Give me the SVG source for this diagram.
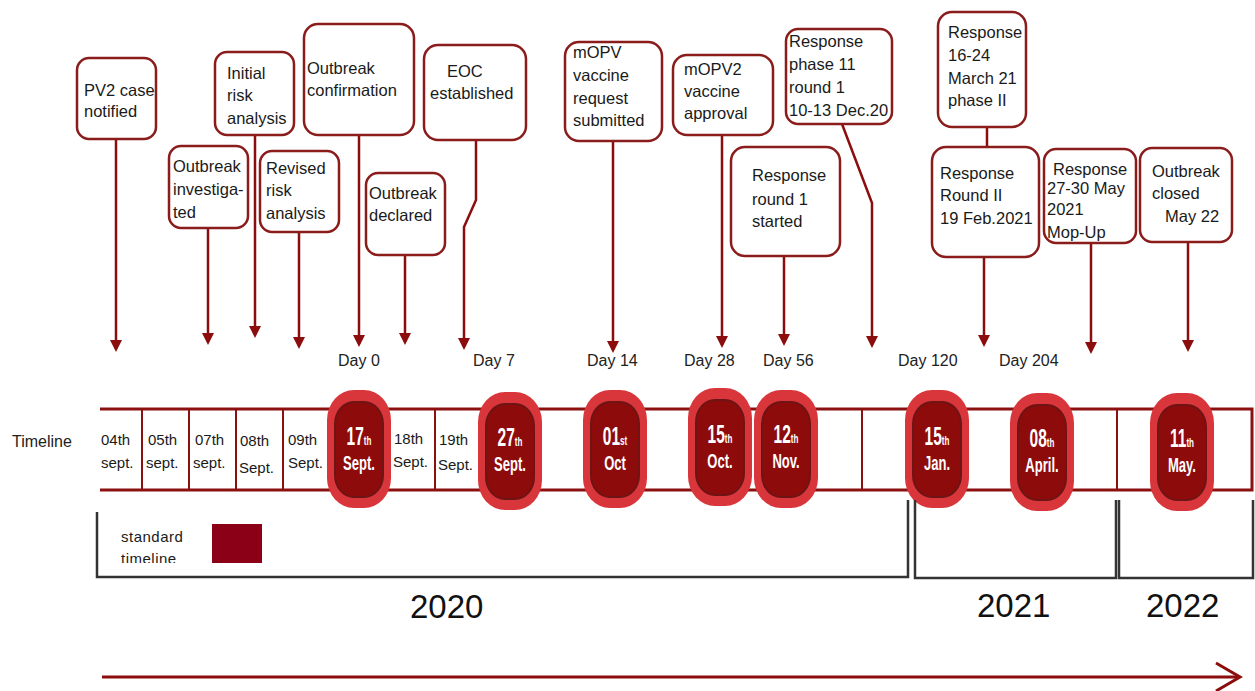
<svg xmlns="http://www.w3.org/2000/svg" width="1255" height="691" viewBox="0 0 1255 691">
<style>
.box{fill:#fff;stroke:#8b1c1c;stroke-width:2.5}
.bt{font-family:"Liberation Sans",Arial,sans-serif;font-size:16.5px;fill:#1a1a1a}
.conn{stroke:#8b0d0d;stroke-width:2.5;fill:none}
.arr{marker-end:url(#ah)}
.day{font-family:"Liberation Sans",Arial,sans-serif;font-size:16px;fill:#222}
.cell{font-family:"Liberation Sans",Arial,sans-serif;font-size:15px;fill:#1a1a1a}
.band{stroke:#8b1010;stroke-width:3;fill:none}
.div{stroke:#8b1010;stroke-width:2;fill:none}
.outer{fill:#d9363c}
.inner{fill:#8e0b0b;stroke:#6e1414;stroke-width:2}
.ct{font-family:"Liberation Sans",Arial,sans-serif;font-weight:bold;fill:#fff;text-anchor:middle}
.num{font-size:25px}
.sup{font-size:13px}
.mon{font-size:21px}
.brk{stroke:#333;stroke-width:2.5;fill:none}
.yr{font-family:"Liberation Sans",Arial,sans-serif;font-size:33px;fill:#111}
</style>
<defs>
<marker id="ah" markerUnits="userSpaceOnUse" markerWidth="14" markerHeight="12" refX="9" refY="6" orient="auto">
<path d="M0,0 L12,6 L0,12 z" fill="#8b0d0d"/>
</marker>
<clipPath id="legclip"><rect x="100" y="520" width="200" height="43"/></clipPath>
<g id="circ">
<rect class="outer" x="-32" y="-59" width="64" height="118" rx="27" ry="30"/>
<rect class="inner" x="-24" y="-47" width="48" height="95" rx="19" ry="22"/>
</g>
</defs>

<g id="connectors">
<path class="conn arr" d="M116,139 V349"/>
<path class="conn arr" d="M208,228 V342"/>
<path class="conn arr" d="M255,135 V335"/>
<path class="conn arr" d="M299,232 V346"/>
<path class="conn arr" d="M359,135 V344"/>
<path class="conn arr" d="M405,255 V342"/>
<path class="conn arr" d="M476,140 V200 L464,227 V347"/>
<path class="conn arr" d="M613,141 V350"/>
<path class="conn arr" d="M722,135 V345"/>
<path class="conn arr" d="M784,256 V343"/>
<path class="conn arr" d="M842,124 L872,203 V345"/>
<path class="conn" d="M987,127 V147"/>
<path class="conn arr" d="M984,257 V344"/>
<path class="conn arr" d="M1091,243 V351"/>
<path class="conn arr" d="M1188,242 V349"/>
</g>

<g id="n-pv2"><rect class="box" x="77" y="58" width="79" height="81" rx="12"/>
<text class="bt" x="84" y="96">PV2 case</text><text class="bt" x="84" y="117">notified</text></g>
<g id="n-investigated"><rect class="box" x="169" y="146" width="79" height="82" rx="12"/>
<text class="bt" x="173" y="172">Outbreak</text><text class="bt" x="173" y="195">investiga-</text><text class="bt" x="173" y="218">ted</text></g>
<g id="n-initial"><rect class="box" x="215" y="52" width="79" height="83" rx="12"/>
<text class="bt" x="227" y="79">Initial</text><text class="bt" x="227" y="101">risk</text><text class="bt" x="227" y="124">analysis</text></g>
<g id="n-confirmation"><rect class="box" x="304" y="24" width="110" height="111" rx="14"/>
<text class="bt" x="307" y="74">Outbreak</text><text class="bt" x="307" y="96">confirmation</text></g>
<g id="n-revised"><rect class="box" x="260" y="151" width="79" height="81" rx="12"/>
<text class="bt" x="266" y="174">Revised</text><text class="bt" x="266" y="196">risk</text><text class="bt" x="266" y="219">analysis</text></g>
<g id="n-declared"><rect class="box" x="366" y="173" width="79" height="82" rx="12"/>
<text class="bt" x="369" y="199">Outbreak</text><text class="bt" x="369" y="221">declared</text></g>
<g id="n-eoc"><rect class="box" x="424" y="45" width="102" height="95" rx="14"/>
<text class="bt" x="447" y="77">EOC</text><text class="bt" x="430" y="99">established</text></g>
<g id="n-mopv"><rect class="box" x="565" y="42" width="97" height="99" rx="14"/>
<text class="bt" x="573" y="58">mOPV</text><text class="bt" x="573" y="81">vaccine</text><text class="bt" x="573" y="104">request</text><text class="bt" x="573" y="126">submitted</text></g>
<g id="n-mopv2"><rect class="box" x="673" y="55" width="100" height="80" rx="14"/>
<text class="bt" x="684" y="75">mOPV2</text><text class="bt" x="684" y="97">vaccine</text><text class="bt" x="684" y="119">approval</text></g>
<g id="n-round1"><rect class="box" x="731" y="147" width="109" height="109" rx="14"/>
<text class="bt" x="752" y="181">Response</text><text class="bt" x="752" y="205">round 1</text><text class="bt" x="752" y="227">started</text></g>
<g id="n-phase11"><rect class="box" x="786" y="29" width="106" height="95" rx="12"/>
<text class="bt" x="789" y="47">Response</text><text class="bt" x="789" y="70">phase 11</text><text class="bt" x="789" y="93">round 1</text><text class="bt" x="789" y="116">10-13 Dec.20</text></g>
<g id="n-phase2"><rect class="box" x="938" y="12" width="88" height="115" rx="14"/>
<text class="bt" x="948" y="38">Response</text><text class="bt" x="948" y="61">16-24</text><text class="bt" x="948" y="84">March 21</text><text class="bt" x="948" y="106">phase II</text></g>
<g id="n-roundII"><rect class="box" x="932" y="147" width="107" height="110" rx="14"/>
<text class="bt" x="940" y="179">Response</text><text class="bt" x="940" y="201">Round II</text><text class="bt" x="940" y="224">19 Feb.2021</text></g>
<g id="n-mopup"><rect class="box" x="1044" y="149" width="92" height="94" rx="12"/>
<text class="bt" x="1053" y="175">Response</text><text class="bt" x="1047" y="194">27-30 May</text><text class="bt" x="1047" y="215">2021</text><text class="bt" x="1047" y="238">Mop-Up</text></g>
<g id="n-closed"><rect class="box" x="1140" y="148" width="92" height="94" rx="12"/>
<text class="bt" x="1152" y="177">Outbreak</text><text class="bt" x="1152" y="199">closed</text><text class="bt" x="1165" y="222">May 22</text></g>

<g id="days">
<text class="day" x="338" y="366">Day 0</text>
<text class="day" x="473" y="366">Day 7</text>
<text class="day" x="587" y="366">Day 14</text>
<text class="day" x="684" y="366">Day 28</text>
<text class="day" x="763" y="366">Day 56</text>
<text class="day" x="898" y="366">Day 120</text>
<text class="day" x="999" y="366">Day 204</text>
</g>

<g id="timeline">
<text class="day" x="12" y="447">Timeline</text>
<path class="band" d="M100,409 H1252 V490 H100"/>
<path class="div" d="M142,409 V490 M189,409 V490 M236,409 V490 M283,409 V490 M435,409 V490 M862,409 V490 M1117,409 V490"/>
<text class="cell" x="101" y="445">04th</text><text class="cell" x="101" y="468">sept.</text>
<text class="cell" x="148" y="445">05th</text><text class="cell" x="146" y="468">sept.</text>
<text class="cell" x="195" y="445">07th</text><text class="cell" x="193" y="468">sept.</text>
<text class="cell" x="240" y="446">08th</text><text class="cell" x="239" y="473">Sept.</text>
<text class="cell" x="288" y="445">09th</text><text class="cell" x="288" y="468">Sept.</text>
<text class="cell" x="394" y="444">18th</text><text class="cell" x="393" y="467">Sept.</text>
<text class="cell" x="439" y="445">19th</text><text class="cell" x="438" y="470">Sept.</text>
</g>

<g id="c-17sep"><use href="#circ" x="359" y="449"/>
<g transform="translate(359,0) scale(0.62,1)"><text class="ct" x="0" y="445"><tspan class="num">17</tspan><tspan class="sup">th</tspan></text><text class="ct mon" x="0" y="470">Sept.</text></g></g>
<g id="c-27sep"><use href="#circ" x="510" y="451"/>
<g transform="translate(510,0) scale(0.62,1)"><text class="ct" x="0" y="446"><tspan class="num">27</tspan><tspan class="sup">th</tspan></text><text class="ct mon" x="0" y="471">Sept.</text></g></g>
<g id="c-01oct"><use href="#circ" x="615" y="449"/>
<g transform="translate(615,0) scale(0.62,1)"><text class="ct" x="0" y="445"><tspan class="num">01</tspan><tspan class="sup">st</tspan></text><text class="ct mon" x="0" y="470">Oct</text></g></g>
<g id="c-15oct"><use href="#circ" x="720" y="447"/>
<g transform="translate(720,0) scale(0.62,1)"><text class="ct" x="0" y="443"><tspan class="num">15</tspan><tspan class="sup">th</tspan></text><text class="ct mon" x="0" y="468">Oct.</text></g></g>
<g id="c-12nov"><use href="#circ" x="786" y="449"/>
<g transform="translate(786,0) scale(0.62,1)"><text class="ct" x="0" y="443"><tspan class="num">12</tspan><tspan class="sup">th</tspan></text><text class="ct mon" x="0" y="468">Nov.</text></g></g>
<g id="c-15jan"><use href="#circ" x="937" y="449"/>
<g transform="translate(937,0) scale(0.62,1)"><text class="ct" x="0" y="445"><tspan class="num">15</tspan><tspan class="sup">th</tspan></text><text class="ct mon" x="0" y="470">Jan.</text></g></g>
<g id="c-08apr"><use href="#circ" x="1042" y="452"/>
<g transform="translate(1042,0) scale(0.62,1)"><text class="ct" x="0" y="447"><tspan class="num">08</tspan><tspan class="sup">th</tspan></text><text class="ct mon" x="0" y="472">April.</text></g></g>
<g id="c-11may"><use href="#circ" x="1182" y="452"/>
<g transform="translate(1182,0) scale(0.62,1)"><text class="ct" x="0" y="447"><tspan class="num">11</tspan><tspan class="sup">th</tspan></text><text class="ct mon" x="0" y="472">May.</text></g></g>

<g id="legend">
<g clip-path="url(#legclip)">
<text class="cell" x="121" y="542" font-size="16" letter-spacing="0.5">standard</text>
<text class="cell" x="121" y="564" font-size="16" letter-spacing="0.5">timeline</text>
</g>
<rect x="212" y="524" width="50" height="39" fill="#8b0016"/>
</g>

<g id="years">
<path class="brk" d="M97,512 V577 H908 V500"/>
<path class="brk" d="M915,500 V578 H1116 V500"/>
<path class="brk" d="M1119,500 V578 H1253 V500"/>
<text class="yr" x="410" y="618">2020</text>
<text class="yr" x="977" y="617">2021</text>
<text class="yr" x="1146" y="617">2022</text>
</g>

<g id="time-arrow">
<path d="M102,677 H1237" stroke="#8b0d0d" stroke-width="3" fill="none"/>
<path d="M1216,663 L1240,677 L1216,691" stroke="#8b0d0d" stroke-width="3" fill="none"/>
</g>
</svg>
